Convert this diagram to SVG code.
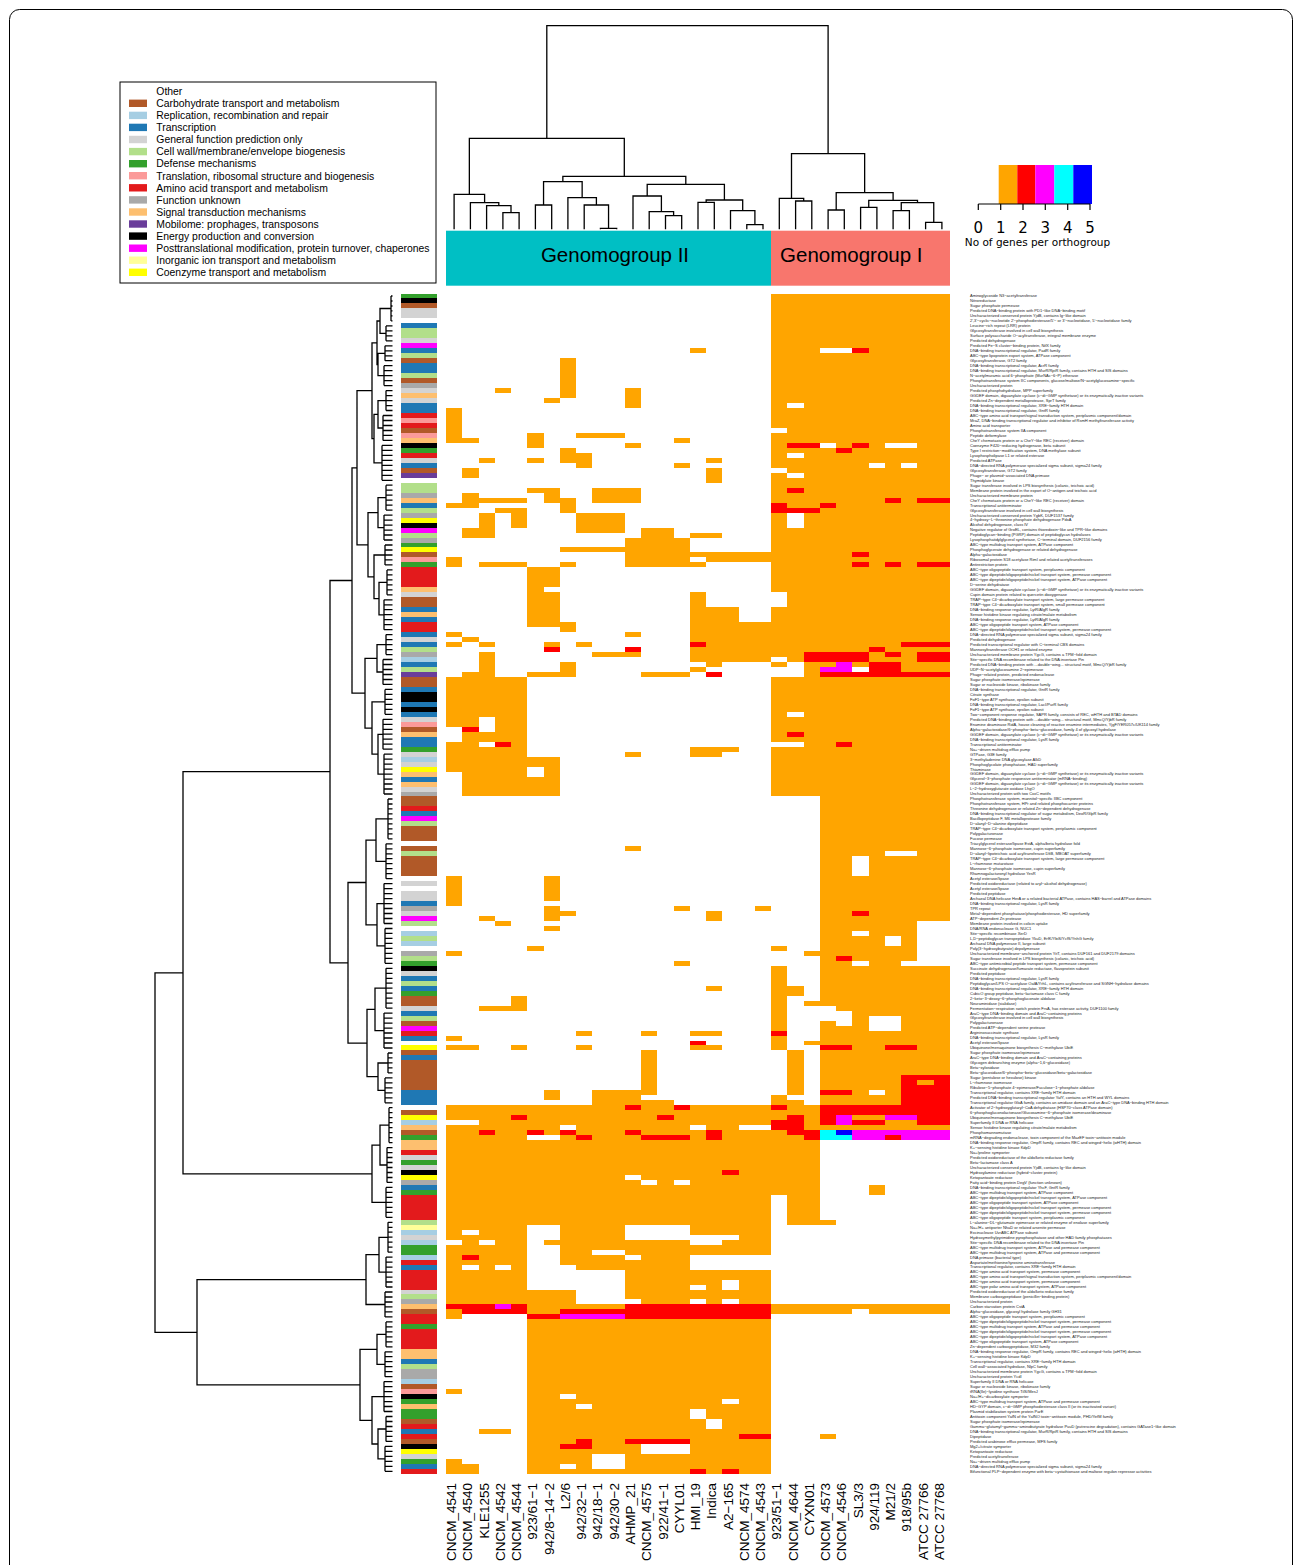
<svg xmlns="http://www.w3.org/2000/svg" width="1295" height="1565" viewBox="0 0 1295 1565">
<style>
.rl{font-family:"Liberation Sans",Arial,sans-serif;font-size:4px;fill:#222}
.cl{font-family:"Liberation Sans",Arial,sans-serif;font-size:13.5px;fill:#000}
.lg{font-family:"Liberation Sans",Arial,sans-serif;font-size:10.4px;fill:#000}
.gg{font-family:"Liberation Sans",Arial,sans-serif;font-size:20.5px;fill:#000}
.ky{font-family:"DejaVu Sans",sans-serif;fill:#000}
.dn{fill:none;stroke:#000;stroke-width:1.3}
.ho{fill:#FFA500}.hr{fill:#FF0000}.hm{fill:#FF00FF}.hc{fill:#00FFFF}.hb{fill:#0000FF}.hw{fill:#FFFFFF}
.sG{fill:#B15928}.sL{fill:#A6CEE3}.sK{fill:#1F78B4}.sR{fill:#D3D3D3}.sM{fill:#B2DF8A}.sV{fill:#33A02C}.sJ{fill:#FB9A99}.sE{fill:#E31A1C}.sS{fill:#A9A9A9}.sT{fill:#FDBF6F}.sX{fill:#6A3D9A}.sC{fill:#000000}.sO{fill:#FF00FF}.sP{fill:#FFFF99}.sH{fill:#FFFF00}
</style>
<rect x="0" y="0" width="1295" height="1565" fill="#fff"/>
<rect x="9.5" y="9.5" width="1283" height="1580" rx="10" fill="none" stroke="#000" stroke-width="1"/>

<g id="legend">
<rect x="120" y="82" width="316" height="201" fill="#fff" stroke="#000" stroke-width="1"/>
<g class="lg">
<text x="156.3" y="95">Other</text>
<rect class="sG" x="129" y="99.6" width="18" height="7.4"/><text x="156.3" y="107.1">Carbohydrate transport and metabolism</text>
<rect class="sL" x="129" y="111.7" width="18" height="7.4"/><text x="156.3" y="119.1">Replication, recombination and repair</text>
<rect class="sK" x="129" y="123.7" width="18" height="7.4"/><text x="156.3" y="131.2">Transcription</text>
<rect class="sR" x="129" y="135.8" width="18" height="7.4"/><text x="156.3" y="143.3">General function prediction only</text>
<rect class="sM" x="129" y="147.9" width="18" height="7.4"/><text x="156.3" y="155.4">Cell wall/membrane/envelope biogenesis</text>
<rect class="sV" x="129" y="160" width="18" height="7.4"/><text x="156.3" y="167.4">Defense mechanisms</text>
<rect class="sJ" x="129" y="172" width="18" height="7.4"/><text x="156.3" y="179.5">Translation, ribosomal structure and biogenesis</text>
<rect class="sE" x="129" y="184.1" width="18" height="7.4"/><text x="156.3" y="191.6">Amino acid transport and metabolism</text>
<rect class="sS" x="129" y="196.2" width="18" height="7.4"/><text x="156.3" y="203.7">Function unknown</text>
<rect class="sT" x="129" y="208.3" width="18" height="7.4"/><text x="156.3" y="215.7">Signal transduction mechanisms</text>
<rect class="sX" x="129" y="220.3" width="18" height="7.4"/><text x="156.3" y="227.8">Mobilome: prophages, transposons</text>
<rect class="sC" x="129" y="232.4" width="18" height="7.4"/><text x="156.3" y="239.9">Energy production and conversion</text>
<rect class="sO" x="129" y="244.5" width="18" height="7.4"/><text x="156.3" y="252">Posttranslational modification, protein turnover, chaperones</text>
<rect class="sP" x="129" y="256.5" width="18" height="7.4"/><text x="156.3" y="264">Inorganic ion transport and metabolism</text>
<rect class="sH" x="129" y="268.6" width="18" height="7.4"/><text x="156.3" y="276.1">Coenzyme transport and metabolism</text>
</g>
</g>

<g id="color-key">
<rect x="977" y="165" width="21.7" height="39" fill="#fff"/>
<rect x="998.7" y="165" width="18.6" height="39" fill="#FFA500"/>
<rect x="1017.3" y="165" width="18" height="39" fill="#FF0000"/>
<rect x="1035.3" y="165" width="19" height="39" fill="#FF00FF"/>
<rect x="1054.3" y="165" width="19" height="39" fill="#00FFFF"/>
<rect x="1073.3" y="165" width="18.7" height="39" fill="#0000FF"/>
<path d="M978.3 204H1090M978.3 204V210M1000.7 204V210M1023 204V210M1045.3 204V210M1067.7 204V210M1090 204V210" fill="none" stroke="#000" stroke-width="1.2"/>
<g class="ky" font-size="15" text-anchor="middle">
<text x="978.3" y="232.5">0</text><text x="1000.7" y="232.5">1</text><text x="1023" y="232.5">2</text><text x="1045.3" y="232.5">3</text><text x="1067.7" y="232.5">4</text><text x="1090" y="232.5">5</text>
</g>
<text class="ky" font-size="10.5" x="1037.5" y="246" text-anchor="middle">No of genes per orthogroup</text>
</g>

<g id="genomogroups">
<rect x="446" y="230.7" width="325" height="55" fill="#00BFC4"/>
<rect x="771" y="230.7" width="179" height="55" fill="#F8766D"/>
<text class="gg" x="615" y="262.3" text-anchor="middle">Genomogroup II</text>
<text class="gg" x="851.3" y="262.3" text-anchor="middle">Genomogroup I</text>
</g>

<g id="connectors">
<path id="column-dendrogram" class="dn" d="M454.1 229.3V194.3H484.6V202.7M470.4 229.3V202.7H498.8V205.7M486.6 229.3V205.7H511V212.7M502.9 229.3V212.7H519.1V229.3M535.4 229.3V205H551.7V229.3M600.4 229.3V228.3H616.7V229.3M584.2 229.3V205H608.55V228.3M567.9 229.3V197.7H596.4V205M543.55 205V181.7H582.15V197.7M665.5 229.3V215.7H681.7V229.3M649.2 229.3V211.7H673.6V215.7M633 229.3V196H661.4V211.7M698 229.3V202.3H714.3V229.3M746.8 229.3V224.7H763V229.3M730.5 229.3V210.7H754.9V224.7M706.15 202.3V200H742.7V210.7M647.2 196V184.3H724.4V200M562.85 181.7V176.3H685.8V184.3M469.35 194.3V138.3H624.3V176.3M795.6 229.3V201H811.8V229.3M779.3 229.3V198.3H803.7V201M828.1 229.3V210H844.3V229.3M860.6 229.3V207.3H876.9V229.3M893.1 229.3V210.7H909.4V229.3M925.6 229.3V222.3H941.9V229.3M901.25 210.7V202.7H933.75V222.3M868.75 207.3V200.3H917.5V202.7M836.2 210V192.7H893.1V200.3M791.5 198.3V153.7H864.65V192.7M546.8 138.3V25.7H828.1V153.7"/>
<path id="row-dendrogram" class="dn" d="M391 296V320.9M391 296h1.5M391 301h1.5M391 306h1.5M391 310.9h1.5M391 315.9h1.5M391 320.9h1.5
M386 325.9V340.8M386 325.9h6.5M386 330.9h6.5M386 335.8h6.5M386 340.8h6.5
M385 345.8V360.7M385 345.8h7.5M385 350.8h7.5M385 355.8h7.5M385 360.7h7.5
M384 365.7V385.6M384 365.7h8.5M384 370.7h8.5M384 375.7h8.5M384 380.7h8.5M384 385.6h8.5
M386 390.6V410.5M386 390.6h6.5M386 395.6h6.5M386 400.6h6.5M386 405.6h6.5M386 410.5h6.5
M383 415.5V440.4M383 415.5h9.5M383 420.5h9.5M383 425.5h9.5M383 430.5h9.5M383 435.4h9.5M383 440.4h9.5
M382 445.4V480.3M382 445.4h10.5M382 450.4h10.5M382 455.4h10.5M382 460.3h10.5M382 465.3h10.5M382 470.3h10.5M382 475.3h10.5M382 480.3h10.5
M386 485.2V510.1M386 485.2h6.5M386 490.2h6.5M386 495.2h6.5M386 500.2h6.5M386 505.2h6.5M386 510.1h6.5
M384 515.1V540M384 515.1h8.5M384 520.1h8.5M384 525.1h8.5M384 530.1h8.5M384 535h8.5M384 540h8.5
M385 545V564.9M385 545h7.5M385 550h7.5M385 555h7.5M385 559.9h7.5M385 564.9h7.5
M387 569.9V594.8M387 569.9h5.5M387 574.9h5.5M387 579.9h5.5M387 584.8h5.5M387 589.8h5.5M387 594.8h5.5
M384 599.8V629.7M384 599.8h8.5M384 604.8h8.5M384 609.7h8.5M384 614.7h8.5M384 619.7h8.5M384 624.7h8.5M384 629.7h8.5
M386 634.6V654.6M386 634.6h6.5M386 639.6h6.5M386 644.6h6.5M386 649.6h6.5M386 654.6h6.5
M383 659.5V684.4M383 659.5h9.5M383 664.5h9.5M383 669.5h9.5M383 674.5h9.5M383 679.5h9.5M383 684.4h9.5
M385 689.4V714.3M385 689.4h7.5M385 694.4h7.5M385 699.4h7.5M385 704.4h7.5M385 709.3h7.5M385 714.3h7.5
M383 719.3V749.2M383 719.3h9.5M383 724.3h9.5M383 729.3h9.5M383 734.2h9.5M383 739.2h9.5M383 744.2h9.5M383 749.2h9.5
M384 754.2V794M384 754.2h8.5M384 759.1h8.5M384 764.1h8.5M384 769.1h8.5M384 774.1h8.5M384 779.1h8.5M384 784h8.5M384 789h8.5M384 794h8.5
M388 799V838.8M388 799h4.5M388 804h4.5M388 808.9h4.5M388 813.9h4.5M388 818.9h4.5M388 823.9h4.5M388 828.9h4.5M388 833.8h4.5M388 838.8h4.5
M386 843.8V878.7M386 843.8h6.5M386 848.8h6.5M386 853.8h6.5M386 858.7h6.5M386 863.7h6.5M386 868.7h6.5M386 873.7h6.5M386 878.7h6.5
M384 883.6V923.5M384 883.6h8.5M384 888.6h8.5M384 893.6h8.5M384 898.6h8.5M384 903.6h8.5M384 908.5h8.5M384 913.5h8.5M384 918.5h8.5M384 923.5h8.5
M385 928.5V963.3M385 928.5h7.5M385 933.4h7.5M385 938.4h7.5M385 943.4h7.5M385 948.4h7.5M385 953.4h7.5M385 958.3h7.5M385 963.3h7.5
M386 968.3V1008.1M386 968.3h6.5M386 973.3h6.5M386 978.3h6.5M386 983.2h6.5M386 988.2h6.5M386 993.2h6.5M386 998.2h6.5M386 1003.2h6.5M386 1008.1h6.5
M384 1013.1V1048M384 1013.1h8.5M384 1018.1h8.5M384 1023.1h8.5M384 1028.1h8.5M384 1033h8.5M384 1038h8.5M384 1043h8.5M384 1048h8.5
M388 1053V1072.9M388 1053h4.5M388 1057.9h4.5M388 1062.9h4.5M388 1067.9h4.5M388 1072.9h4.5
M385 1077.9V1102.8M385 1077.9h7.5M385 1082.8h7.5M385 1087.8h7.5M385 1092.8h7.5M385 1097.8h7.5M385 1102.8h7.5
M389 1107.7V1142.6M389 1107.7h3.5M389 1112.7h3.5M389 1117.7h3.5M389 1122.7h3.5M389 1127.7h3.5M389 1132.6h3.5M389 1137.6h3.5M389 1142.6h3.5
M387 1147.6V1182.4M387 1147.6h5.5M387 1152.6h5.5M387 1157.5h5.5M387 1162.5h5.5M387 1167.5h5.5M387 1172.5h5.5M387 1177.5h5.5M387 1182.4h5.5
M386 1187.4V1217.3M386 1187.4h6.5M386 1192.4h6.5M386 1197.4h6.5M386 1202.4h6.5M386 1207.3h6.5M386 1212.3h6.5M386 1217.3h6.5
M388 1222.3V1252.2M388 1222.3h4.5M388 1227.3h4.5M388 1232.2h4.5M388 1237.2h4.5M388 1242.2h4.5M388 1247.2h4.5M388 1252.2h4.5
M386 1257.1V1287M386 1257.1h6.5M386 1262.1h6.5M386 1267.1h6.5M386 1272.1h6.5M386 1277.1h6.5M386 1282h6.5M386 1287h6.5
M385 1292V1316.9M385 1292h7.5M385 1297h7.5M385 1302h7.5M385 1306.9h7.5M385 1311.9h7.5M385 1316.9h7.5
M386 1321.9V1346.8M386 1321.9h6.5M386 1326.9h6.5M386 1331.8h6.5M386 1336.8h6.5M386 1341.8h6.5M386 1346.8h6.5
M385 1351.8V1376.7M385 1351.8h7.5M385 1356.7h7.5M385 1361.7h7.5M385 1366.7h7.5M385 1371.7h7.5M385 1376.7h7.5
M384 1381.6V1411.5M384 1381.6h8.5M384 1386.6h8.5M384 1391.6h8.5M384 1396.6h8.5M384 1401.6h8.5M384 1406.5h8.5M384 1411.5h8.5
M386 1416.5V1441.4M386 1416.5h6.5M386 1421.5h6.5M386 1426.5h6.5M386 1431.4h6.5M386 1436.4h6.5M386 1441.4h6.5
M385 1446.4V1471.3M385 1446.4h7.5M385 1451.4h7.5M385 1456.3h7.5M385 1461.3h7.5M385 1466.3h7.5M385 1471.3h7.5
M391 308.5H380V333.4H386M385 353.3H378V375.7H384M380 321H377V364.5H378M386 400.6H378V428H383M378 414.3H374V462.9H382M377 342.8H372V438.6H374
M386 497.7H378V527.6H384M387 582.4H379V614.8H384M385 555H374V598.6H379M378 512.7H368V576.8H374M372 390.7H357V544.8H368
M386 644.6H377V672H383M383 734.3H378V774.1H384M385 701.9H372V754.2H378M377 658.3H365V728.1H372M357 467.8H352V693.2H365
M388 818.9H376V861.3H386M384 903.6H377V945.9H385M376 840.1H366V924.8H377M386 988.2H375V1030.6H384M388 1063H378V1090.4H385M375 1009.4H367V1076.7H378M366 882.5H348V1043.1H367
M352 580.5H330V962.8H348M389 1125.2H380V1165H387M380 1145.1H372V1202.4H386M330 771.7H183V1173.8H372
M388 1237.3H379V1272.1H386M379 1254.7H366V1304.5H385M386 1334.4H377V1364.3H385M386 1429H378V1458.9H385M384 1396.6H372V1444H378M377 1349.4H360V1420.3H372M366 1279.6H197V1384.9H360
M183 972.8H155V1332.3H197"/>
</g>

<g id="row-color-bar" transform="translate(401,293.5) scale(36,4.98)" shape-rendering="crispEdges">
<rect class="sV" x="0" y="0" width="1" height="1"/><rect class="sC" x="0" y="1" width="1" height="1"/><rect class="sG" x="0" y="2" width="1" height="1"/><rect class="sR" x="0" y="3" width="1" height="2"/>
<rect class="sK" x="0" y="6" width="1" height="1"/><rect class="sM" x="0" y="7" width="1" height="2"/><rect class="sR" x="0" y="9" width="1" height="1"/><rect class="sO" x="0" y="10" width="1" height="1"/>
<rect class="sK" x="0" y="11" width="1" height="1"/><rect class="sM" x="0" y="12" width="1" height="1"/><rect class="sG" x="0" y="13" width="1" height="1"/><rect class="sK" x="0" y="14" width="1" height="2"/>
<rect class="sM" x="0" y="16" width="1" height="1"/><rect class="sG" x="0" y="17" width="1" height="1"/><rect class="sS" x="0" y="18" width="1" height="1"/><rect class="sR" x="0" y="19" width="1" height="1"/>
<rect class="sT" x="0" y="20" width="1" height="1"/><rect class="sR" x="0" y="21" width="1" height="1"/><rect class="sK" x="0" y="22" width="1" height="2"/><rect class="sE" x="0" y="24" width="1" height="1"/>
<rect class="sJ" x="0" y="25" width="1" height="1"/><rect class="sE" x="0" y="26" width="1" height="1"/><rect class="sG" x="0" y="27" width="1" height="1"/><rect class="sJ" x="0" y="28" width="1" height="1"/>
<rect class="sT" x="0" y="29" width="1" height="1"/><rect class="sC" x="0" y="30" width="1" height="1"/><rect class="sV" x="0" y="31" width="1" height="1"/><rect class="sE" x="0" y="32" width="1" height="1"/>
<rect class="sR" x="0" y="33" width="1" height="1"/><rect class="sK" x="0" y="34" width="1" height="1"/><rect class="sG" x="0" y="35" width="1" height="1"/><rect class="sX" x="0" y="36" width="1" height="1"/>
<rect class="sM" x="0" y="38" width="1" height="2"/><rect class="sS" x="0" y="40" width="1" height="1"/><rect class="sT" x="0" y="41" width="1" height="1"/><rect class="sK" x="0" y="42" width="1" height="1"/>
<rect class="sM" x="0" y="43" width="1" height="1"/><rect class="sS" x="0" y="44" width="1" height="1"/><rect class="sH" x="0" y="45" width="1" height="1"/><rect class="sC" x="0" y="46" width="1" height="1"/>
<rect class="sO" x="0" y="47" width="1" height="1"/><rect class="sM" x="0" y="48" width="1" height="1"/><rect class="sS" x="0" y="49" width="1" height="1"/><rect class="sV" x="0" y="50" width="1" height="1"/>
<rect class="sH" x="0" y="51" width="1" height="1"/><rect class="sG" x="0" y="52" width="1" height="1"/><rect class="sJ" x="0" y="53" width="1" height="1"/><rect class="sV" x="0" y="54" width="1" height="1"/>
<rect class="sE" x="0" y="55" width="1" height="4"/><rect class="sT" x="0" y="59" width="1" height="1"/><rect class="sR" x="0" y="60" width="1" height="1"/><rect class="sG" x="0" y="61" width="1" height="2"/>
<rect class="sK" x="0" y="63" width="1" height="1"/><rect class="sT" x="0" y="64" width="1" height="1"/><rect class="sK" x="0" y="65" width="1" height="1"/><rect class="sE" x="0" y="66" width="1" height="2"/>
<rect class="sK" x="0" y="68" width="1" height="1"/><rect class="sR" x="0" y="69" width="1" height="1"/><rect class="sK" x="0" y="70" width="1" height="1"/><rect class="sM" x="0" y="71" width="1" height="1"/>
<rect class="sS" x="0" y="72" width="1" height="1"/><rect class="sL" x="0" y="73" width="1" height="1"/><rect class="sK" x="0" y="74" width="1" height="1"/><rect class="sM" x="0" y="75" width="1" height="1"/>
<rect class="sX" x="0" y="76" width="1" height="1"/><rect class="sG" x="0" y="77" width="1" height="2"/><rect class="sK" x="0" y="79" width="1" height="1"/><rect class="sC" x="0" y="80" width="1" height="2"/>
<rect class="sK" x="0" y="82" width="1" height="1"/><rect class="sC" x="0" y="83" width="1" height="1"/><rect class="sK" x="0" y="84" width="1" height="1"/><rect class="sR" x="0" y="85" width="1" height="1"/>
<rect class="sJ" x="0" y="86" width="1" height="1"/><rect class="sG" x="0" y="87" width="1" height="1"/><rect class="sT" x="0" y="88" width="1" height="1"/><rect class="sK" x="0" y="89" width="1" height="2"/>
<rect class="sV" x="0" y="91" width="1" height="1"/><rect class="sR" x="0" y="92" width="1" height="1"/><rect class="sL" x="0" y="93" width="1" height="1"/><rect class="sR" x="0" y="94" width="1" height="1"/>
<rect class="sH" x="0" y="95" width="1" height="1"/><rect class="sT" x="0" y="96" width="1" height="1"/><rect class="sK" x="0" y="97" width="1" height="1"/><rect class="sT" x="0" y="98" width="1" height="1"/>
<rect class="sR" x="0" y="99" width="1" height="1"/><rect class="sS" x="0" y="100" width="1" height="1"/><rect class="sG" x="0" y="101" width="1" height="2"/><rect class="sE" x="0" y="103" width="1" height="1"/>
<rect class="sK" x="0" y="104" width="1" height="1"/><rect class="sO" x="0" y="105" width="1" height="1"/><rect class="sM" x="0" y="106" width="1" height="1"/><rect class="sG" x="0" y="107" width="1" height="3"/>
<rect class="sG" x="0" y="111" width="1" height="1"/><rect class="sM" x="0" y="112" width="1" height="1"/><rect class="sG" x="0" y="113" width="1" height="4"/><rect class="sR" x="0" y="118" width="1" height="1"/>
<rect class="sR" x="0" y="120" width="1" height="2"/><rect class="sK" x="0" y="122" width="1" height="1"/><rect class="sS" x="0" y="123" width="1" height="1"/><rect class="sR" x="0" y="124" width="1" height="1"/>
<rect class="sO" x="0" y="125" width="1" height="1"/><rect class="sM" x="0" y="126" width="1" height="1"/><rect class="sL" x="0" y="128" width="1" height="1"/><rect class="sM" x="0" y="129" width="1" height="1"/>
<rect class="sL" x="0" y="130" width="1" height="1"/><rect class="sS" x="0" y="132" width="1" height="1"/><rect class="sM" x="0" y="133" width="1" height="1"/><rect class="sV" x="0" y="134" width="1" height="1"/>
<rect class="sC" x="0" y="135" width="1" height="1"/><rect class="sR" x="0" y="136" width="1" height="1"/><rect class="sK" x="0" y="137" width="1" height="1"/><rect class="sM" x="0" y="138" width="1" height="1"/>
<rect class="sK" x="0" y="139" width="1" height="1"/><rect class="sV" x="0" y="140" width="1" height="1"/><rect class="sG" x="0" y="141" width="1" height="2"/><rect class="sR" x="0" y="143" width="1" height="1"/>
<rect class="sK" x="0" y="144" width="1" height="1"/><rect class="sM" x="0" y="145" width="1" height="1"/><rect class="sG" x="0" y="146" width="1" height="1"/><rect class="sO" x="0" y="147" width="1" height="1"/>
<rect class="sE" x="0" y="148" width="1" height="1"/><rect class="sK" x="0" y="149" width="1" height="1"/><rect class="sH" x="0" y="151" width="1" height="1"/><rect class="sG" x="0" y="152" width="1" height="1"/>
<rect class="sK" x="0" y="153" width="1" height="1"/><rect class="sG" x="0" y="154" width="1" height="6"/><rect class="sK" x="0" y="160" width="1" height="3"/><rect class="sG" x="0" y="164" width="1" height="1"/>
<rect class="sH" x="0" y="165" width="1" height="1"/><rect class="sL" x="0" y="166" width="1" height="1"/><rect class="sT" x="0" y="167" width="1" height="1"/><rect class="sG" x="0" y="168" width="1" height="1"/>
<rect class="sV" x="0" y="169" width="1" height="1"/><rect class="sT" x="0" y="170" width="1" height="2"/><rect class="sE" x="0" y="172" width="1" height="1"/><rect class="sR" x="0" y="173" width="1" height="1"/>
<rect class="sV" x="0" y="174" width="1" height="1"/><rect class="sR" x="0" y="175" width="1" height="1"/><rect class="sC" x="0" y="176" width="1" height="1"/><rect class="sH" x="0" y="177" width="1" height="1"/>
<rect class="sS" x="0" y="178" width="1" height="1"/><rect class="sK" x="0" y="179" width="1" height="1"/><rect class="sV" x="0" y="180" width="1" height="1"/><rect class="sE" x="0" y="181" width="1" height="5"/>
<rect class="sM" x="0" y="186" width="1" height="1"/><rect class="sP" x="0" y="187" width="1" height="1"/><rect class="sL" x="0" y="188" width="1" height="1"/><rect class="sR" x="0" y="189" width="1" height="1"/>
<rect class="sL" x="0" y="190" width="1" height="1"/><rect class="sV" x="0" y="191" width="1" height="2"/><rect class="sL" x="0" y="193" width="1" height="1"/><rect class="sE" x="0" y="194" width="1" height="1"/>
<rect class="sK" x="0" y="195" width="1" height="1"/><rect class="sE" x="0" y="196" width="1" height="4"/><rect class="sR" x="0" y="200" width="1" height="1"/><rect class="sM" x="0" y="201" width="1" height="1"/>
<rect class="sS" x="0" y="202" width="1" height="1"/><rect class="sT" x="0" y="203" width="1" height="1"/><rect class="sG" x="0" y="204" width="1" height="1"/><rect class="sE" x="0" y="205" width="1" height="2"/>
<rect class="sV" x="0" y="207" width="1" height="1"/><rect class="sE" x="0" y="208" width="1" height="4"/><rect class="sT" x="0" y="212" width="1" height="2"/><rect class="sK" x="0" y="214" width="1" height="1"/>
<rect class="sM" x="0" y="215" width="1" height="1"/><rect class="sS" x="0" y="216" width="1" height="2"/><rect class="sL" x="0" y="218" width="1" height="1"/><rect class="sG" x="0" y="219" width="1" height="1"/>
<rect class="sJ" x="0" y="220" width="1" height="1"/><rect class="sC" x="0" y="221" width="1" height="1"/><rect class="sV" x="0" y="222" width="1" height="1"/><rect class="sT" x="0" y="223" width="1" height="1"/>
<rect class="sV" x="0" y="224" width="1" height="2"/><rect class="sG" x="0" y="226" width="1" height="1"/><rect class="sE" x="0" y="227" width="1" height="1"/><rect class="sK" x="0" y="228" width="1" height="1"/>
<rect class="sE" x="0" y="229" width="1" height="1"/><rect class="sG" x="0" y="230" width="1" height="1"/><rect class="sC" x="0" y="231" width="1" height="1"/><rect class="sH" x="0" y="232" width="1" height="1"/>
<rect class="sR" x="0" y="233" width="1" height="1"/><rect class="sV" x="0" y="234" width="1" height="1"/><rect class="sK" x="0" y="235" width="1" height="1"/><rect class="sE" x="0" y="236" width="1" height="1"/>
</g>

<g id="heatmap" transform="translate(446,293.5) scale(16.258,4.98)" shape-rendering="crispEdges">
<rect class="ho" x="20" y="0" width="3" height="101"/>
<rect class="ho" x="23" y="0" width="6" height="170"/>
<rect class="ho" x="29" y="0" width="2" height="126"/>
<rect class="ho" x="29" y="135" width="2" height="35"/>
<rect class="ho" x="20" y="131" width="1" height="1"/><rect class="ho" x="20" y="135" width="1" height="13"/><rect class="hr" x="20" y="148" width="1" height="1"/><rect class="ho" x="20" y="149" width="1" height="3"/>
<rect class="ho" x="20" y="161" width="1" height="2"/><rect class="hr" x="20" y="163" width="1" height="1"/><rect class="ho" x="20" y="164" width="1" height="2"/><rect class="hr" x="20" y="166" width="1" height="2"/><rect class="ho" x="20" y="168" width="1" height="2"/>
<rect class="ho" x="21" y="139" width="1" height="2"/><rect class="ho" x="21" y="152" width="1" height="9"/><rect class="ho" x="21" y="162" width="1" height="8"/><rect class="hr" x="21" y="165" width="1" height="4"/>
<rect class="ho" x="22" y="132" width="1" height="1"/><rect class="ho" x="22" y="142" width="1" height="1"/><rect class="ho" x="22" y="150" width="1" height="1"/><rect class="ho" x="22" y="163" width="1" height="7"/><rect class="hr" x="22" y="168" width="1" height="2"/>
<rect class="ho" x="20" y="170" width="1" height="11"/><rect class="ho" x="21" y="170" width="2" height="17"/><rect class="ho" x="23" y="186" width="1" height="1"/><rect class="ho" x="26" y="179" width="1" height="2"/>
<rect class="ho" x="20" y="203" width="11" height="2"/><rect class="hw" x="25" y="204" width="1" height="1"/><rect class="ho" x="23" y="229" width="1" height="1"/>
<rect class="hw" x="23" y="11" width="2" height="1"/><rect class="hr" x="25" y="11" width="1" height="1"/>
<rect class="hw" x="21" y="22" width="1" height="1"/><rect class="hw" x="20" y="27" width="1" height="1"/>
<rect class="hr" x="21" y="30" width="2" height="1"/><rect class="hw" x="23" y="30" width="1" height="1"/><rect class="hr" x="25" y="30" width="1" height="1"/><rect class="hw" x="27" y="30" width="2" height="1"/><rect class="hr" x="24" y="31" width="1" height="1"/>
<rect class="hw" x="21" y="32" width="1" height="1"/><rect class="hw" x="26" y="34" width="1" height="1"/><rect class="hw" x="28" y="34" width="1" height="1"/>
<rect class="hw" x="20" y="35" width="1" height="1"/><rect class="hw" x="21" y="36" width="1" height="1"/><rect class="hr" x="21" y="39" width="1" height="1"/>
<rect class="hr" x="27" y="41" width="1" height="1"/><rect class="hr" x="29" y="41" width="2" height="1"/>
<rect class="hr" x="20" y="42" width="1" height="2"/><rect class="hr" x="21" y="43" width="2" height="1"/><rect class="hr" x="23" y="42" width="1" height="1"/>
<rect class="hw" x="21" y="44" width="1" height="3"/><rect class="hr" x="25" y="52" width="1" height="1"/>
<rect class="hr" x="25" y="54" width="1" height="1"/><rect class="hr" x="27" y="54" width="1" height="1"/><rect class="hr" x="29" y="54" width="2" height="1"/>
<rect class="hw" x="20" y="60" width="1" height="3"/>
<rect class="hr" x="28" y="70" width="3" height="1"/><rect class="hr" x="26" y="71" width="1" height="1"/>
<rect class="hr" x="22" y="72" width="4" height="2"/><rect class="hr" x="27" y="72" width="1" height="1"/><rect class="hr" x="29" y="72" width="2" height="2"/>
<rect class="hw" x="20" y="73" width="1" height="1"/><rect class="hw" x="21" y="74" width="1" height="1"/>
<rect class="hm" x="24" y="74" width="1" height="2"/><rect class="hm" x="23" y="75" width="1" height="1"/><rect class="hr" x="26" y="74" width="2" height="2"/><rect class="hw" x="25" y="75" width="1" height="1"/>
<rect class="hr" x="23" y="76" width="8" height="1"/><rect class="hw" x="20" y="75" width="2" height="2"/>
<rect class="hw" x="21" y="84" width="1" height="1"/><rect class="hr" x="21" y="88" width="1" height="1"/><rect class="hw" x="20" y="90" width="2" height="1"/><rect class="hr" x="24" y="90" width="1" height="1"/>
<rect class="hw" x="27" y="112" width="2" height="1"/><rect class="hw" x="25" y="113" width="1" height="4"/><rect class="hr" x="25" y="124" width="1" height="1"/><rect class="hw" x="25" y="128" width="1" height="1"/>
<rect class="hw" x="27" y="129" width="1" height="2"/><rect class="hr" x="24" y="133" width="1" height="1"/><rect class="hw" x="25" y="134" width="1" height="1"/><rect class="hw" x="28" y="134" width="1" height="1"/>
<rect class="hw" x="23" y="143" width="1" height="3"/><rect class="hw" x="24" y="144" width="1" height="3"/><rect class="hw" x="26" y="145" width="2" height="3"/>
<rect class="hr" x="23" y="151" width="2" height="1"/><rect class="hr" x="27" y="151" width="2" height="1"/>
<rect class="hr" x="28" y="157" width="3" height="6"/><rect class="ho" x="29" y="158" width="1" height="1"/>
<rect class="hr" x="23" y="160" width="2" height="1"/><rect class="hw" x="26" y="160" width="1" height="1"/>
<rect class="hr" x="23" y="163" width="8" height="2"/><rect class="hr" x="23" y="165" width="1" height="1"/><rect class="hm" x="24" y="165" width="1" height="2"/><rect class="hm" x="27" y="165" width="2" height="1"/><rect class="hr" x="29" y="165" width="2" height="1"/>
<rect class="hr" x="23" y="166" width="1" height="1"/><rect class="hr" x="25" y="166" width="2" height="1"/><rect class="hr" x="29" y="166" width="2" height="1"/>
<rect class="hc" x="23" y="168" width="1" height="2"/><rect class="hb" x="24" y="168" width="1" height="1"/><rect class="hc" x="24" y="169" width="1" height="1"/><rect class="hm" x="25" y="168" width="6" height="1"/>
<rect class="hm" x="25" y="169" width="2" height="1"/><rect class="hr" x="27" y="169" width="1" height="1"/><rect class="hm" x="28" y="169" width="3" height="1"/>
<rect class="ho" x="15" y="11" width="1" height="1"/><rect class="ho" x="7" y="13" width="1" height="8"/><rect class="ho" x="3" y="19" width="1" height="1"/><rect class="ho" x="6" y="21" width="1" height="1"/>
<rect class="ho" x="11" y="19" width="1" height="4"/><rect class="ho" x="0" y="23" width="1" height="7"/><rect class="ho" x="1" y="29" width="1" height="1"/><rect class="ho" x="5" y="28" width="1" height="3"/>
<rect class="ho" x="8" y="28" width="3" height="1"/><rect class="ho" x="14" y="29" width="1" height="1"/><rect class="ho" x="11" y="30" width="1" height="1"/><rect class="ho" x="7" y="31" width="1" height="3"/>
<rect class="ho" x="8" y="32" width="1" height="3"/><rect class="ho" x="2" y="33" width="1" height="1"/><rect class="ho" x="5" y="33" width="1" height="1"/><rect class="ho" x="16" y="33" width="1" height="1"/>
<rect class="ho" x="14" y="34" width="1" height="1"/><rect class="ho" x="16" y="35" width="1" height="3"/><rect class="ho" x="1" y="35" width="1" height="2"/>
<rect class="ho" x="5" y="39" width="2" height="1"/><rect class="ho" x="9" y="39" width="3" height="3"/><rect class="ho" x="6" y="39" width="1" height="3"/><rect class="ho" x="7" y="41" width="1" height="3"/>
<rect class="ho" x="1" y="40" width="1" height="3"/><rect class="ho" x="2" y="41" width="3" height="1"/><rect class="ho" x="0" y="42" width="1" height="1"/><rect class="ho" x="3" y="43" width="1" height="1"/>
<rect class="ho" x="4" y="43" width="1" height="4"/><rect class="ho" x="2" y="44" width="1" height="5"/><rect class="ho" x="8" y="44" width="3" height="4"/><rect class="ho" x="1" y="47" width="1" height="2"/>
<rect class="ho" x="12" y="47" width="2" height="8"/><rect class="ho" x="14" y="49" width="1" height="6"/><rect class="ho" x="15" y="48" width="2" height="1"/><rect class="ho" x="11" y="49" width="1" height="2"/>
<rect class="ho" x="7" y="51" width="5" height="1"/><rect class="ho" x="11" y="52" width="1" height="3"/><rect class="ho" x="15" y="52" width="1" height="1"/><rect class="ho" x="16" y="52" width="4" height="2"/>
<rect class="ho" x="0" y="53" width="1" height="2"/><rect class="ho" x="2" y="54" width="3" height="1"/><rect class="ho" x="7" y="54" width="1" height="1"/><rect class="ho" x="15" y="54" width="1" height="1"/>
<rect class="ho" x="5" y="55" width="2" height="12"/><rect class="hw" x="6" y="59" width="1" height="1"/>
<rect class="ho" x="15" y="60" width="1" height="14"/><rect class="ho" x="16" y="63" width="2" height="11"/><rect class="ho" x="18" y="66" width="2" height="8"/><rect class="ho" x="7" y="66" width="1" height="2"/>
<rect class="ho" x="0" y="68" width="1" height="1"/><rect class="ho" x="11" y="68" width="1" height="1"/><rect class="ho" x="1" y="69" width="1" height="1"/>
<rect class="ho" x="0" y="70" width="1" height="1"/><rect class="ho" x="2" y="70" width="1" height="1"/><rect class="ho" x="6" y="70" width="1" height="1"/><rect class="ho" x="8" y="70" width="1" height="1"/>
<rect class="hr" x="6" y="71" width="1" height="1"/><rect class="hr" x="11" y="71" width="1" height="1"/><rect class="hr" x="15" y="70" width="1" height="1"/>
<rect class="ho" x="9" y="72" width="3" height="1"/><rect class="ho" x="2" y="72" width="1" height="5"/><rect class="ho" x="16" y="72" width="1" height="3"/><rect class="ho" x="7" y="74" width="1" height="3"/>
<rect class="ho" x="15" y="75" width="1" height="1"/><rect class="ho" x="1" y="76" width="1" height="1"/><rect class="ho" x="5" y="76" width="2" height="1"/><rect class="ho" x="12" y="76" width="3" height="1"/><rect class="hr" x="16" y="76" width="1" height="1"/>
<rect class="ho" x="0" y="77" width="5" height="24"/><rect class="hw" x="0" y="87" width="1" height="3"/><rect class="hw" x="0" y="96" width="1" height="5"/><rect class="hw" x="2" y="85" width="1" height="3"/><rect class="hw" x="2" y="90" width="1" height="1"/>
<rect class="hr" x="1" y="87" width="1" height="1"/><rect class="hr" x="3" y="90" width="1" height="1"/>
<rect class="ho" x="5" y="93" width="2" height="8"/><rect class="hw" x="5" y="95" width="1" height="2"/>
<rect class="ho" x="11" y="92" width="1" height="1"/><rect class="ho" x="15" y="91" width="2" height="2"/><rect class="ho" x="17" y="91" width="1" height="1"/>
<rect class="ho" x="11" y="111" width="1" height="1"/><rect class="ho" x="0" y="117" width="1" height="6"/><rect class="ho" x="6" y="117" width="1" height="5"/><rect class="ho" x="6" y="123" width="1" height="3"/><rect class="ho" x="6" y="127" width="1" height="1"/>
<rect class="ho" x="7" y="124" width="1" height="1"/><rect class="ho" x="2" y="125" width="1" height="1"/><rect class="ho" x="3" y="126" width="1" height="1"/><rect class="ho" x="14" y="123" width="1" height="1"/>
<rect class="ho" x="19" y="123" width="1" height="1"/><rect class="ho" x="16" y="124" width="1" height="2"/><rect class="ho" x="5" y="131" width="1" height="1"/><rect class="ho" x="0" y="132" width="1" height="1"/>
<rect class="ho" x="14" y="134" width="1" height="1"/><rect class="ho" x="16" y="139" width="1" height="1"/><rect class="ho" x="4" y="141" width="1" height="3"/><rect class="ho" x="2" y="143" width="2" height="1"/>
<rect class="ho" x="8" y="148" width="1" height="1"/><rect class="ho" x="12" y="148" width="1" height="1"/><rect class="ho" x="15" y="148" width="2" height="1"/><rect class="ho" x="0" y="149" width="1" height="1"/>
<rect class="hr" x="15" y="150" width="1" height="1"/><rect class="ho" x="0" y="151" width="2" height="1"/><rect class="ho" x="4" y="151" width="1" height="1"/><rect class="ho" x="8" y="151" width="1" height="1"/><rect class="ho" x="15" y="151" width="2" height="1"/>
<rect class="ho" x="12" y="152" width="1" height="9"/><rect class="ho" x="6" y="160" width="1" height="2"/><rect class="ho" x="9" y="160" width="3" height="3"/><rect class="ho" x="12" y="162" width="2" height="1"/>
<rect class="ho" x="0" y="163" width="20" height="40"/>
<rect class="hr" x="11" y="163" width="1" height="1"/><rect class="hr" x="14" y="163" width="1" height="1"/><rect class="hr" x="4" y="165" width="1" height="1"/><rect class="hr" x="13" y="165" width="1" height="1"/>
<rect class="hw" x="0" y="166" width="2" height="1"/><rect class="hw" x="7" y="167" width="1" height="1"/><rect class="hw" x="15" y="167" width="1" height="1"/><rect class="hw" x="18" y="167" width="2" height="1"/>
<rect class="hr" x="2" y="168" width="1" height="1"/><rect class="hr" x="5" y="168" width="1" height="1"/><rect class="hr" x="7" y="168" width="1" height="1"/><rect class="hr" x="11" y="168" width="1" height="1"/><rect class="hr" x="16" y="168" width="1" height="2"/>
<rect class="hr" x="8" y="169" width="1" height="1"/><rect class="hr" x="12" y="169" width="3" height="1"/><rect class="hw" x="5" y="169" width="2" height="1"/>
<rect class="hr" x="17" y="176" width="1" height="1"/><rect class="hw" x="11" y="177" width="1" height="1"/><rect class="hw" x="12" y="178" width="1" height="1"/><rect class="hw" x="14" y="178" width="1" height="1"/>
<rect class="hw" x="5" y="187" width="2" height="3"/><rect class="hw" x="11" y="187" width="4" height="3"/><rect class="hw" x="1" y="188" width="1" height="1"/><rect class="hw" x="15" y="189" width="2" height="2"/><rect class="hw" x="17" y="189" width="1" height="1"/>
<rect class="hw" x="0" y="190" width="1" height="1"/><rect class="hw" x="2" y="190" width="1" height="1"/><rect class="hw" x="5" y="190" width="1" height="1"/><rect class="hw" x="5" y="191" width="2" height="4"/><rect class="hw" x="9" y="192" width="2" height="1"/>
<rect class="hr" x="1" y="193" width="1" height="1"/><rect class="hw" x="11" y="193" width="1" height="1"/><rect class="hw" x="15" y="193" width="5" height="3"/><rect class="hw" x="1" y="195" width="1" height="1"/><rect class="hw" x="3" y="195" width="1" height="1"/>
<rect class="hw" x="5" y="195" width="3" height="5"/><rect class="hw" x="8" y="196" width="3" height="7"/><rect class="hw" x="15" y="199" width="1" height="1"/><rect class="hw" x="17" y="198" width="1" height="2"/>
<rect class="hw" x="11" y="202" width="1" height="1"/><rect class="hw" x="15" y="202" width="1" height="1"/><rect class="hw" x="17" y="202" width="1" height="1"/>
<rect class="hr" x="0" y="203" width="1" height="1"/><rect class="ho" x="0" y="204" width="1" height="2"/><rect class="hr" x="1" y="203" width="4" height="2"/><rect class="hm" x="3" y="203" width="1" height="1"/>
<rect class="ho" x="5" y="203" width="2" height="2"/><rect class="hr" x="5" y="205" width="2" height="1"/><rect class="ho" x="7" y="203" width="4" height="1"/><rect class="hr" x="7" y="204" width="4" height="1"/><rect class="hm" x="7" y="205" width="4" height="1"/>
<rect class="hr" x="11" y="203" width="9" height="3"/>
<rect class="ho" x="5" y="206" width="15" height="31"/>
<rect class="ho" x="0" y="220" width="1" height="1"/><rect class="hw" x="7" y="221" width="1" height="1"/><rect class="hw" x="17" y="222" width="1" height="1"/><rect class="hw" x="8" y="223" width="1" height="1"/>
<rect class="hw" x="15" y="224" width="1" height="2"/><rect class="hw" x="16" y="226" width="1" height="2"/><rect class="ho" x="2" y="228" width="2" height="1"/><rect class="hr" x="18" y="229" width="2" height="1"/>
<rect class="hr" x="11" y="230" width="4" height="1"/><rect class="hr" x="8" y="230" width="1" height="2"/><rect class="hr" x="7" y="231" width="1" height="1"/><rect class="hw" x="12" y="231" width="3" height="2"/>
<rect class="hw" x="9" y="233" width="2" height="3"/><rect class="ho" x="0" y="234" width="1" height="2"/><rect class="ho" x="1" y="235" width="1" height="1"/><rect class="ho" x="0" y="236" width="2" height="1"/>
<rect class="hw" x="7" y="235" width="1" height="1"/><rect class="hr" x="15" y="236" width="1" height="1"/><rect class="hr" x="17" y="236" width="1" height="1"/>
</g>

<g id="column-labels" class="cl" text-anchor="end">
<text transform="translate(456.1,1483) rotate(-90)">CNCM_4541</text>
<text transform="translate(472.4,1483) rotate(-90)">CNCM_4540</text>
<text transform="translate(488.6,1483) rotate(-90)">KLE1255</text>
<text transform="translate(504.9,1483) rotate(-90)">CNCM_4542</text>
<text transform="translate(521.1,1483) rotate(-90)">CNCM_4544</text>
<text transform="translate(537.4,1483) rotate(-90)">923/61−1</text>
<text transform="translate(553.7,1483) rotate(-90)">942/8−14−2</text>
<text transform="translate(569.9,1483) rotate(-90)">L2/6</text>
<text transform="translate(586.2,1483) rotate(-90)">942/32−1</text>
<text transform="translate(602.4,1483) rotate(-90)">942/18−1</text>
<text transform="translate(618.7,1483) rotate(-90)">942/30−2</text>
<text transform="translate(635,1483) rotate(-90)">AHMP_21</text>
<text transform="translate(651.2,1483) rotate(-90)">CNCM_4575</text>
<text transform="translate(667.5,1483) rotate(-90)">922/41−1</text>
<text transform="translate(683.7,1483) rotate(-90)">CYYL01</text>
<text transform="translate(700,1483) rotate(-90)">HMI_19</text>
<text transform="translate(716.3,1483) rotate(-90)">Indica</text>
<text transform="translate(732.5,1483) rotate(-90)">A2−165</text>
<text transform="translate(748.8,1483) rotate(-90)">CNCM_4574</text>
<text transform="translate(765,1483) rotate(-90)">CNCM_4543</text>
<text transform="translate(781.3,1483) rotate(-90)">923/51−1</text>
<text transform="translate(797.6,1483) rotate(-90)">CNCM_4644</text>
<text transform="translate(813.8,1483) rotate(-90)">CYXN01</text>
<text transform="translate(830.1,1483) rotate(-90)">CNCM_4573</text>
<text transform="translate(846.3,1483) rotate(-90)">CNCM_4546</text>
<text transform="translate(862.6,1483) rotate(-90)">SL3/3</text>
<text transform="translate(878.9,1483) rotate(-90)">924/119</text>
<text transform="translate(895.1,1483) rotate(-90)">M21/2</text>
<text transform="translate(911.4,1483) rotate(-90)">918/95b</text>
<text transform="translate(927.6,1483) rotate(-90)">ATCC 27766</text>
<text transform="translate(943.9,1483) rotate(-90)">ATCC 27768</text>
</g>

<g id="row-labels">
<text class="rl" x="970" y="297.4"><tspan x="970">Aminoglycoside N3−acetyltransferase</tspan><tspan x="970" dy="4.98">Nitroreductase</tspan><tspan x="970" dy="4.98">Sugar phosphate permease</tspan><tspan x="970" dy="4.98">Predicted DNA−binding protein with PD1−like DNA−binding motif</tspan><tspan x="970" dy="4.98">Uncharacterized conserved protein YjdB, contains Ig−like domain</tspan><tspan x="970" dy="4.98">2',3'−cyclic−nucleotide 2'−phosphodiesterase/5'− or 3'−nucleotidase, 5'−nucleotidase family</tspan><tspan x="970" dy="4.98">Leucine−rich repeat (LRR) protein</tspan><tspan x="970" dy="4.98">Glycosyltransferase involved in cell wall biosynthesis</tspan><tspan x="970" dy="4.98">Surface polysaccharide O−acyltransferase, integral membrane enzyme</tspan><tspan x="970" dy="4.98">Predicted dehydrogenase</tspan><tspan x="970" dy="4.98">Predicted Fe−S cluster−binding protein, NifX family</tspan><tspan x="970" dy="4.98">DNA−binding transcriptional regulator, PadR family</tspan><tspan x="970" dy="4.98">ABC−type lipoprotein export system, ATPase component</tspan><tspan x="970" dy="4.98">Glycosyltransferase, GT2 family</tspan><tspan x="970" dy="4.98">DNA−binding transcriptional regulator, AcrR family</tspan><tspan x="970" dy="4.98">DNA−binding transcriptional regulator, MurR/RpiR family, contains HTH and SIS domains</tspan><tspan x="970" dy="4.98">N−acetylmuramic acid 6−phosphate (MurNAc−6−P) etherase</tspan><tspan x="970" dy="4.98">Phosphotransferase system IIC components, glucose/maltose/N−acetylglucosamine−specific</tspan><tspan x="970" dy="4.98">Uncharacterized protein</tspan><tspan x="970" dy="4.98">Predicted phosphohydrolase, MPP superfamily</tspan><tspan x="970" dy="4.98">GGDEF domain, diguanylate cyclase (c−di−GMP synthetase) or its enzymatically inactive variants</tspan><tspan x="970" dy="4.98">Predicted Zn−dependent metalloprotease, SprT family</tspan><tspan x="970" dy="4.98">DNA−binding transcriptional regulator, XRE−family HTH domain</tspan><tspan x="970" dy="4.98">DNA−binding transcriptional regulator, GntR family</tspan><tspan x="970" dy="4.98">ABC−type amino acid transport/signal transduction system, periplasmic component/domain</tspan><tspan x="970" dy="4.98">MraZ, DNA−binding transcriptional regulator and inhibitor of RsmH methyltransferase activity</tspan><tspan x="970" dy="4.98">Amino acid transporter</tspan><tspan x="970" dy="4.98">Phosphotransferase system IIA component</tspan><tspan x="970" dy="4.98">Peptide deformylase</tspan><tspan x="970" dy="4.98">CheY chemotaxis protein or a CheY−like REC (receiver) domain</tspan><tspan x="970" dy="4.98">Coenzyme F420−reducing hydrogenase, beta subunit</tspan><tspan x="970" dy="4.98">Type I restriction−modification system, DNA methylase subunit</tspan><tspan x="970" dy="4.98">Lysophospholipase L1 or related esterase</tspan><tspan x="970" dy="4.98">Predicted ATPase</tspan><tspan x="970" dy="4.98">DNA−directed RNA polymerase specialized sigma subunit, sigma24 family</tspan><tspan x="970" dy="4.98">Glycosyltransferase, GT2 family</tspan><tspan x="970" dy="4.98">Phage− or plasmid−associated DNA primase</tspan><tspan x="970" dy="4.98">Thymidylate kinase</tspan><tspan x="970" dy="4.98">Sugar transferase involved in LPS biosynthesis (colanic, teichoic acid)</tspan><tspan x="970" dy="4.98">Membrane protein involved in the export of O−antigen and teichoic acid</tspan><tspan x="970" dy="4.98">Uncharacterized membrane protein</tspan><tspan x="970" dy="4.98">CheY chemotaxis protein or a CheY−like REC (receiver) domain</tspan><tspan x="970" dy="4.98">Transcriptional antiterminator</tspan><tspan x="970" dy="4.98">Glycosyltransferase involved in cell wall biosynthesis</tspan><tspan x="970" dy="4.98">Uncharacterized conserved protein YgbK, DUF1537 family</tspan><tspan x="970" dy="4.98">4−hydroxy−L−threonine phosphate dehydrogenase PdxA</tspan><tspan x="970" dy="4.98">Alcohol dehydrogenase, class IV</tspan><tspan x="970" dy="4.98">Negative regulator of GroEL, contains thioredoxin−like and TPR−like domains</tspan><tspan x="970" dy="4.98">Peptidoglycan−binding (PGRP) domain of peptidoglycan hydrolases</tspan><tspan x="970" dy="4.98">Lysophosphatidylglycerol synthetase, C−terminal domain, DUF2156 family</tspan><tspan x="970" dy="4.98">ABC−type multidrug transport system, ATPase component</tspan><tspan x="970" dy="4.98">Phosphoglycerate dehydrogenase or related dehydrogenase</tspan><tspan x="970" dy="4.98">Alpha−galactosidase</tspan><tspan x="970" dy="4.98">Ribosomal protein S18 acetylase RimI and related acetyltransferases</tspan><tspan x="970" dy="4.98">Antirestriction protein</tspan><tspan x="970" dy="4.98">ABC−type oligopeptide transport system, periplasmic component</tspan><tspan x="970" dy="4.98">ABC−type dipeptide/oligopeptide/nickel transport system, permease component</tspan><tspan x="970" dy="4.98">ABC−type dipeptide/oligopeptide/nickel transport system, ATPase component</tspan><tspan x="970" dy="4.98">D−serine dehydratase</tspan><tspan x="970" dy="4.98">GGDEF domain, diguanylate cyclase (c−di−GMP synthetase) or its enzymatically inactive variants</tspan><tspan x="970" dy="4.98">Cupin domain protein related to quercetin dioxygenase</tspan><tspan x="970" dy="4.98">TRAP−type C4−dicarboxylate transport system, large permease component</tspan><tspan x="970" dy="4.98">TRAP−type C4−dicarboxylate transport system, small permease component</tspan><tspan x="970" dy="4.98">DNA−binding response regulator, LytR/AlgR family</tspan><tspan x="970" dy="4.98">Sensor histidine kinase regulating citrate/malate metabolism</tspan><tspan x="970" dy="4.98">DNA−binding response regulator, LytR/AlgR family</tspan><tspan x="970" dy="4.98">ABC−type oligopeptide transport system, ATPase component</tspan><tspan x="970" dy="4.98">ABC−type dipeptide/oligopeptide/nickel transport system, permease component</tspan><tspan x="970" dy="4.98">DNA−directed RNA polymerase specialized sigma subunit, sigma24 family</tspan><tspan x="970" dy="4.98">Predicted dehydrogenase</tspan><tspan x="970" dy="4.98">Predicted transcriptional regulator with C−terminal CBS domains</tspan><tspan x="970" dy="4.98">Mannosyltransferase OCH1 or related enzyme</tspan><tspan x="970" dy="4.98">Uncharacterized membrane protein YgcG, contains a TPM−fold domain</tspan><tspan x="970" dy="4.98">Site−specific DNA recombinase related to the DNA invertase Pin</tspan><tspan x="970" dy="4.98">Predicted DNA−binding protein with ...double−wing... structural motif, MmcQ/YjbR family</tspan><tspan x="970" dy="4.98">UDP−N−acetylglucosamine 2−epimerase</tspan><tspan x="970" dy="4.98">Phage−related protein, predicted endonuclease</tspan><tspan x="970" dy="4.98">Sugar phosphate isomerase/epimerase</tspan><tspan x="970" dy="4.98">Sugar or nucleoside kinase, ribokinase family</tspan><tspan x="970" dy="4.98">DNA−binding transcriptional regulator, GntR family</tspan><tspan x="970" dy="4.98">Citrate synthase</tspan><tspan x="970" dy="4.98">FoF1−type ATP synthase, epsilon subunit</tspan><tspan x="970" dy="4.98">DNA−binding transcriptional regulator, LacI/PurR family</tspan><tspan x="970" dy="4.98">FoF1−type ATP synthase, epsilon subunit</tspan><tspan x="970" dy="4.98">Two−component response regulator, SAPR family, consists of REC, wHTH and BTAD domains</tspan><tspan x="970" dy="4.98">Predicted DNA−binding protein with ...double−wing... structural motif, MmcQ/YjbR family</tspan><tspan x="970" dy="4.98">Enamine deaminase RidA, house cleaning of reactive enamine intermediates, YjgF/YER057c/UK114 family</tspan><tspan x="970" dy="4.98">Alpha−galactosidase/6−phospho−beta−glucosidase, family 4 of glycosyl hydrolase</tspan><tspan x="970" dy="4.98">GGDEF domain, diguanylate cyclase (c−di−GMP synthetase) or its enzymatically inactive variants</tspan><tspan x="970" dy="4.98">DNA−binding transcriptional regulator, LysR family</tspan><tspan x="970" dy="4.98">Transcriptional antiterminator</tspan><tspan x="970" dy="4.98">Na+−driven multidrug efflux pump</tspan><tspan x="970" dy="4.98">GTPase, G3E family</tspan><tspan x="970" dy="4.98">3−methyladenine DNA glycosylase AlkD</tspan><tspan x="970" dy="4.98">Phosphoglycolate phosphatase, HAD superfamily</tspan><tspan x="970" dy="4.98">Thiaminase</tspan><tspan x="970" dy="4.98">GGDEF domain, diguanylate cyclase (c−di−GMP synthetase) or its enzymatically inactive variants</tspan><tspan x="970" dy="4.98">Glycerol−3−phosphate responsive antiterminator (mRNA−binding)</tspan><tspan x="970" dy="4.98">GGDEF domain, diguanylate cyclase (c−di−GMP synthetase) or its enzymatically inactive variants</tspan><tspan x="970" dy="4.98">L−2−hydroxyglutarate oxidase LhgO</tspan><tspan x="970" dy="4.98">Uncharacterized protein with two CxxC motifs</tspan><tspan x="970" dy="4.98">Phosphotransferase system, mannitol−specific IIBC component</tspan><tspan x="970" dy="4.98">Phosphotransferase system, HPr and related phosphocarrier proteins</tspan><tspan x="970" dy="4.98">Threonine dehydrogenase or related Zn−dependent dehydrogenase</tspan><tspan x="970" dy="4.98">DNA−binding transcriptional regulator of sugar metabolism, DeoR/GlpR family</tspan><tspan x="970" dy="4.98">Bacillopeptidase F, M6 metalloprotease family</tspan><tspan x="970" dy="4.98">D−alanyl−D−alanine dipeptidase</tspan><tspan x="970" dy="4.98">TRAP−type C4−dicarboxylate transport system, periplasmic component</tspan><tspan x="970" dy="4.98">Polygalacturonase</tspan><tspan x="970" dy="4.98">Fucose permease</tspan><tspan x="970" dy="4.98">Triacylglycerol esterase/lipase EstA, alpha/beta hydrolase fold</tspan><tspan x="970" dy="4.98">Mannose−6−phosphate isomerase, cupin superfamily</tspan><tspan x="970" dy="4.98">D−alanyl−lipoteichoic acid acyltransferase DltB, MBOAT superfamily</tspan><tspan x="970" dy="4.98">TRAP−type C4−dicarboxylate transport system, large permease component</tspan><tspan x="970" dy="4.98">L−rhamnose mutarotase</tspan><tspan x="970" dy="4.98">Mannose−6−phosphate isomerase, cupin superfamily</tspan><tspan x="970" dy="4.98">Rhamnogalacturonyl hydrolase YesR</tspan><tspan x="970" dy="4.98">Acetyl esterase/lipase</tspan><tspan x="970" dy="4.98">Predicted oxidoreductase (related to aryl−alcohol dehydrogenase)</tspan><tspan x="970" dy="4.98">Acetyl esterase/lipase</tspan><tspan x="970" dy="4.98">Predicted peptidase</tspan><tspan x="970" dy="4.98">Archaeal DNA helicase HerA or a related bacterial ATPase, contains HAS−barrel and ATPase domains</tspan><tspan x="970" dy="4.98">DNA−binding transcriptional regulator, LysR family</tspan><tspan x="970" dy="4.98">TPR repeat</tspan><tspan x="970" dy="4.98">Metal−dependent phosphatase/phosphodiesterase, HD superfamily</tspan><tspan x="970" dy="4.98">ATP−dependent Zn protease</tspan><tspan x="970" dy="4.98">Membrane protein involved in colicin uptake</tspan><tspan x="970" dy="4.98">DNA/RNA endonuclease G, NUC1</tspan><tspan x="970" dy="4.98">Site−specific recombinase XerD</tspan><tspan x="970" dy="4.98">L,D−peptidoglycan transpeptidase YkuD, ErfK/YbiS/YcfS/YnhG family</tspan><tspan x="970" dy="4.98">Archaeal DNA polymerase II, large subunit</tspan><tspan x="970" dy="4.98">Poly(3−hydroxybutyrate) depolymerase</tspan><tspan x="970" dy="4.98">Uncharacterized membrane−anchored protein YitT, contains DUF161 and DUF2179 domains</tspan><tspan x="970" dy="4.98">Sugar transferase involved in LPS biosynthesis (colanic, teichoic acid)</tspan><tspan x="970" dy="4.98">ABC−type antimicrobial peptide transport system, permease component</tspan><tspan x="970" dy="4.98">Succinate dehydrogenase/fumarate reductase, flavoprotein subunit</tspan><tspan x="970" dy="4.98">Predicted peptidase</tspan><tspan x="970" dy="4.98">DNA−binding transcriptional regulator, LysR family</tspan><tspan x="970" dy="4.98">Peptidoglycan/LPS O−acetylase OafA/YrhL, contains acyltransferase and SGNH−hydrolase domains</tspan><tspan x="970" dy="4.98">DNA−binding transcriptional regulator, XRE−family HTH domain</tspan><tspan x="970" dy="4.98">CubicO group peptidase, beta−lactamase class C family</tspan><tspan x="970" dy="4.98">2−keto−3−deoxy−6−phosphogluconate aldolase</tspan><tspan x="970" dy="4.98">Neuraminidase (sialidase)</tspan><tspan x="970" dy="4.98">Fermentation−respiration switch protein FrsA, has esterase activity, DUF1100 family</tspan><tspan x="970" dy="4.98">AraC−type DNA−binding domain and AraC−containing proteins</tspan><tspan x="970" dy="4.98">Glycosyltransferase involved in cell wall biosynthesis</tspan><tspan x="970" dy="4.98">Polygalacturonase</tspan><tspan x="970" dy="4.98">Predicted ATP−dependent serine protease</tspan><tspan x="970" dy="4.98">Argininosuccinate synthase</tspan><tspan x="970" dy="4.98">DNA−binding transcriptional regulator, LysR family</tspan><tspan x="970" dy="4.98">Acetyl esterase/lipase</tspan><tspan x="970" dy="4.98">Ubiquinone/menaquinone biosynthesis C−methylase UbiE</tspan><tspan x="970" dy="4.98">Sugar phosphate isomerase/epimerase</tspan><tspan x="970" dy="4.98">AraC−type DNA−binding domain and AraC−containing proteins</tspan><tspan x="970" dy="4.98">Glycogen debranching enzyme (alpha−1,6−glucosidase)</tspan><tspan x="970" dy="4.98">Beta−xylosidase</tspan><tspan x="970" dy="4.98">Beta−glucosidase/6−phospho−beta−glucosidase/beta−galactosidase</tspan><tspan x="970" dy="4.98">Sugar (pentulose or hexulose) kinase</tspan><tspan x="970" dy="4.98">L−rhamnose isomerase</tspan><tspan x="970" dy="4.98">Ribulose−5−phosphate 4−epimerase/Fuculose−1−phosphate aldolase</tspan><tspan x="970" dy="4.98">Transcriptional regulator, contains XRE−family HTH domain</tspan><tspan x="970" dy="4.98">Predicted DNA−binding transcriptional regulator YafY, contains an HTH and WYL domains</tspan><tspan x="970" dy="4.98">Transcriptional regulator GlxA family, contains an amidase domain and an AraC−type DNA−binding HTH domain</tspan><tspan x="970" dy="4.98">Activator of 2−hydroxyglutaryl−CoA dehydratase (HSP70−class ATPase domain)</tspan><tspan x="970" dy="4.98">6−phosphogluconolactonase/Glucosamine−6−phosphate isomerase/deaminase</tspan><tspan x="970" dy="4.98">Ubiquinone/menaquinone biosynthesis C−methylase UbiE</tspan><tspan x="970" dy="4.98">Superfamily II DNA or RNA helicase</tspan><tspan x="970" dy="4.98">Sensor histidine kinase regulating citrate/malate metabolism</tspan><tspan x="970" dy="4.98">Phosphomannomutase</tspan><tspan x="970" dy="4.98">mRNA−degrading endonuclease, toxin component of the MazEF toxin−antitoxin module</tspan><tspan x="970" dy="4.98">DNA−binding response regulator, OmpR family, contains REC and winged−helix (wHTH) domain</tspan><tspan x="970" dy="4.98">K+−sensing histidine kinase KdpD</tspan><tspan x="970" dy="4.98">Na+/proline symporter</tspan><tspan x="970" dy="4.98">Predicted oxidoreductase of the aldo/keto reductase family</tspan><tspan x="970" dy="4.98">Beta−lactamase class A</tspan><tspan x="970" dy="4.98">Uncharacterized conserved protein YjdB, contains Ig−like domain</tspan><tspan x="970" dy="4.98">Hydroxylamine reductase (hybrid−cluster protein)</tspan><tspan x="970" dy="4.98">Ketopantoate reductase</tspan><tspan x="970" dy="4.98">Fatty acid−binding protein DegV (function unknown)</tspan><tspan x="970" dy="4.98">DNA−binding transcriptional regulator YhcF, GntR family</tspan><tspan x="970" dy="4.98">ABC−type multidrug transport system, ATPase component</tspan><tspan x="970" dy="4.98">ABC−type dipeptide/oligopeptide/nickel transport system, ATPase component</tspan><tspan x="970" dy="4.98">ABC−type oligopeptide transport system, ATPase component</tspan><tspan x="970" dy="4.98">ABC−type dipeptide/oligopeptide/nickel transport system, permease component</tspan><tspan x="970" dy="4.98">ABC−type dipeptide/oligopeptide/nickel transport system, permease component</tspan><tspan x="970" dy="4.98">ABC−type oligopeptide transport system, periplasmic component</tspan><tspan x="970" dy="4.98">L−alanine−DL−glutamate epimerase or related enzyme of enolase superfamily</tspan><tspan x="970" dy="4.98">Na+/H+ antiporter NhaD or related arsenite permease</tspan><tspan x="970" dy="4.98">Excinuclease UvrABC ATPase subunit</tspan><tspan x="970" dy="4.98">Hydroxymethylpyrimidine pyrophosphatase and other HAD family phosphatases</tspan><tspan x="970" dy="4.98">Site−specific DNA recombinase related to the DNA invertase Pin</tspan><tspan x="970" dy="4.98">ABC−type multidrug transport system, ATPase and permease component</tspan><tspan x="970" dy="4.98">ABC−type multidrug transport system, ATPase and permease component</tspan><tspan x="970" dy="4.98">DNA primase (bacterial type)</tspan><tspan x="970" dy="4.98">Aspartate/methionine/tyrosine aminotransferase</tspan><tspan x="970" dy="4.98">Transcriptional regulator, contains XRE−family HTH domain</tspan><tspan x="970" dy="4.98">ABC−type amino acid transport system, permease component</tspan><tspan x="970" dy="4.98">ABC−type amino acid transport/signal transduction system, periplasmic component/domain</tspan><tspan x="970" dy="4.98">ABC−type amino acid transport system, permease component</tspan><tspan x="970" dy="4.98">ABC−type polar amino acid transport system, ATPase component</tspan><tspan x="970" dy="4.98">Predicted oxidoreductase of the aldo/keto reductase family</tspan><tspan x="970" dy="4.98">Membrane carboxypeptidase (penicillin−binding protein)</tspan><tspan x="970" dy="4.98">Uncharacterized protein</tspan><tspan x="970" dy="4.98">Carbon starvation protein CstA</tspan><tspan x="970" dy="4.98">Alpha−glucosidase, glycosyl hydrolase family GH31</tspan><tspan x="970" dy="4.98">ABC−type oligopeptide transport system, periplasmic component</tspan><tspan x="970" dy="4.98">ABC−type dipeptide/oligopeptide/nickel transport system, permease component</tspan><tspan x="970" dy="4.98">ABC−type multidrug transport system, ATPase and permease component</tspan><tspan x="970" dy="4.98">ABC−type dipeptide/oligopeptide/nickel transport system, permease component</tspan><tspan x="970" dy="4.98">ABC−type dipeptide/oligopeptide/nickel transport system, ATPase component</tspan><tspan x="970" dy="4.98">ABC−type oligopeptide transport system, ATPase component</tspan><tspan x="970" dy="4.98">Zn−dependent carboxypeptidase, M32 family</tspan><tspan x="970" dy="4.98">DNA−binding response regulator, OmpR family, contains REC and winged−helix (wHTH) domain</tspan><tspan x="970" dy="4.98">K+−sensing histidine kinase KdpD</tspan><tspan x="970" dy="4.98">Transcriptional regulator, contains XRE−family HTH domain</tspan><tspan x="970" dy="4.98">Cell wall−associated hydrolase, NlpC family</tspan><tspan x="970" dy="4.98">Uncharacterized membrane protein YgcG, contains a TPM−fold domain</tspan><tspan x="970" dy="4.98">Uncharacterized protein YcdI</tspan><tspan x="970" dy="4.98">Superfamily II DNA or RNA helicase</tspan><tspan x="970" dy="4.98">Sugar or nucleoside kinase, ribokinase family</tspan><tspan x="970" dy="4.98">tRNA(Ile)−lysidine synthase TilS/MesJ</tspan><tspan x="970" dy="4.98">Na+/H+−dicarboxylate symporter</tspan><tspan x="970" dy="4.98">ABC−type multidrug transport system, ATPase and permease component</tspan><tspan x="970" dy="4.98">HD−GYP domain, c−di−GMP phosphodiesterase class II (or its inactivated variant)</tspan><tspan x="970" dy="4.98">Plasmid stabilization system protein ParE</tspan><tspan x="970" dy="4.98">Antitoxin component YafN of the YafNO toxin−antitoxin module, PHD/YefM family</tspan><tspan x="970" dy="4.98">Sugar phosphate isomerase/epimerase</tspan><tspan x="970" dy="4.98">Gamma−glutamyl−gamma−aminobutyrate hydrolase PuuD (putrescine degradation), contains GATase1−like domain</tspan><tspan x="970" dy="4.98">DNA−binding transcriptional regulator, MurR/RpiR family, contains HTH and SIS domains</tspan><tspan x="970" dy="4.98">Dipeptidase</tspan><tspan x="970" dy="4.98">Predicted arabinose efflux permease, MFS family</tspan><tspan x="970" dy="4.98">Mg2+/citrate symporter</tspan><tspan x="970" dy="4.98">Ketopantoate reductase</tspan><tspan x="970" dy="4.98">Predicted acetyltransferase</tspan><tspan x="970" dy="4.98">Na+−driven multidrug efflux pump</tspan><tspan x="970" dy="4.98">DNA−directed RNA polymerase specialized sigma subunit, sigma24 family</tspan><tspan x="970" dy="4.98">Bifunctional PLP−dependent enzyme with beta−cystathionase and maltose regulon repressor activities</tspan></text>
</g>
</svg>
